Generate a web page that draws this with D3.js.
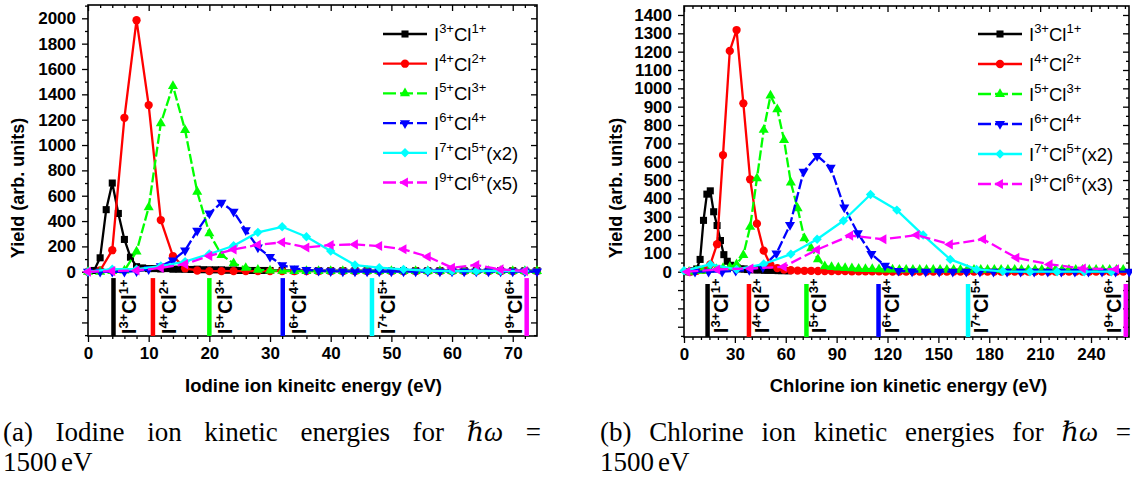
<!DOCTYPE html>
<html><head><meta charset="utf-8">
<script src="https://cdn.jsdelivr.net/npm/d3@7"></script>
<style>
body{margin:0;background:#fff}
svg{display:block}
text{font-family:"Liberation Sans",Arial,sans-serif}
.cap{font-family:"Liberation Serif","DejaVu Serif",serif;font-size:27px}
</style>
</head><body>
<svg id="c" width="1132" height="480"></svg>
<script>
// ---------- shared series info ----------
const seriesColors = ["#000000","#ff0000","#00ff00","#0000ff","#00ffff","#ff00ff"];
const seriesDash   = [null, null, "10,3", "10,3", null, "11,4"];
const seriesSymbol = ["square","circle","up","down","diamond","left"];
const ionI  = ["3+","4+","5+","6+","7+","9+"];
const ionCl = ["1+","2+","3+","4+","5+","6+"];
const legendSuffixA = ["","","","","(x2)","(x5)"];
const legendSuffixB = ["","","","","(x2)","(x3)"];

// ---------- (a) Iodine ----------
const ioTicksX = [0,10,20,30,40,50,60,70];
const ioTicksY = [0,200,400,600,800,1000,1200,1400,1600,1800,2000];
const ioBlackX = [1,2,3,4,5,6,7,8,9,10,11,12,13,14,15,16,17,18,19,20,21,22,23,24,25,26,27,28,29,30,32,34,36,38,40,42,44,46,48,50,52,54,56,58,60,62,64,66,68,70,72,74];
const ioBlackY = [10,110,490,700,460,255,115,40,30,25,25,22,25,20,20,20,18,20,16,15,15,15,12,14,10,12,10,10,10,10,10,8,10,8,8,8,8,8,8,8,8,8,8,8,8,8,8,8,8,8,8,8];
const ioRedX = [0,2,4,6,8,10,12,14,16,18,20,22,24,26,28,30,32,34,36,38,40,42,44,46,48,50,52,54,56,58,60,62,64,66,68,70,72,74];
const ioRedY = [0,10,170,1215,1985,1315,408,124,27,10,5,5,5,5,5,5,5,5,5,5,5,5,5,5,5,5,5,5,5,5,5,5,5,5,5,5,5,5];
const ioGreenX = [0,2,4,6,8,10,12,14,16,18,20,22,24,26,28,30,32,34,36,38,40,42,44,46,48,50,52,54,56,58,60,62,64,66,68,70,72,74];
const ioGreenY = [0,0,5,10,160,508,1171,1466,1118,631,303,132,66,30,15,10,8,5,5,5,5,5,5,5,5,5,5,5,5,5,5,5,5,5,5,5,5,5];
const ioBlueX = [0,2,4,6,8,10,12,14,16,18,20,22,24,26,28,30,32,34,36,38,40,42,44,46,48,50,52,54,56,58,60,62,64,66,68,70,72,74];
const ioBlueY = [0,0,0,0,5,20,45,90,168,324,461,545,474,329,192,118,53,27,15,8,5,3,2,2,2,2,2,2,2,2,2,2,2,2,2,2,2,2];
const ioCyanX = [0,4,8,12,16,20,24,28,32,36,40,44,48,52,56,60,64,68,72];
const ioCyanY = [0,20,20,45,80,140,205,311,355,276,163,53,32,19,8,5,5,8,5];
const ioMagX = [0,4,8,12,16,20,24,28,32,36,40,44,48,52,56,60,64,68,72];
const ioMagY = [0,5,10,30,60,125,175,213,232,192,211,216,203,177,119,32,53,19,5];
const ioMarkerX = [4.2,10.7,20.0,32.1,46.8,72.3];

// ---------- (b) Chlorine ----------
const clTicksX = [0,30,60,90,120,150,180,210,240];
const clTicksY = [0,100,200,300,400,500,600,700,800,900,1000,1100,1200,1300,1400];
const clBlackX = [1.5,3.5,5.5,7.5,9.5,11.5,13.5,15.5,17.5,19.5,21.5,23.5,25.5,27.5,29.5,31.5,33.5,35.5,37.5,39.5,41.5,43.5,45.5,47.5,49.5,51.5,53.5,55.5,57.5,59.5,61.5];
const clBlackY = [0,0,5,15,67,280,423,441,327,252,170,93,57,35,25,20,15,15,12,12,10,10,10,8,8,8,8,6,6,6,5];
const clRedX = [3.5,7.5,11.5,15.5,19.5,23,27,31,35,39,43,47,51,55,59,63,67,71,75,79,83,87,91,95,99,103,107,111,115,119,123,127,131,135,139,143,147,151,155,159,163,167,171,175,179,183,187,191,195,199,203,207,211,215,219,223,227,231,235,239,243,247,251,255,259];
const clRedY = [0,5,10,40,150,636,1204,1318,918,504,262,115,37,20,12,8,6,5,5,4,4,3,3,3,2,2,2,2,2,1,1,1,1,1,1,1,1,1,1,1,1,1,1,1,1,1,1,1,1,1,1,1,1,1,1,1,1,1,1,1,1,1,1,1,1];
const clGreenX = [3,7,11,15,19,23,27,31,35,39,43,47,51,55,59,63,67,71,75,79,83,87,91,95,99,103,107,111,115,119,123,127,131,135,139,143,147,151,155,159,163,167,171,175,179,183,187,191,195,199,203,207,211,215,219,223,227,231,235,239,243,247,251,255,259];
const clGreenY = [0,5,5,10,15,20,25,40,91,245,509,773,960,886,718,486,346,182,128,68,30,25,22,20,18,16,15,14,13,12,12,11,11,10,10,10,10,10,10,10,10,10,10,10,10,10,10,10,10,10,10,10,10,10,10,10,10,10,10,10,10,10,10,10,10];
const clBlueX = [6.5,14.5,22.5,30.5,38.5,46.5,54.5,62.5,70.5,78.5,86.5,94.5,102.5,110.5,118.5,126.5,134.5,142.5,150.5,158.5,166.5,174.5,182.5,190.5,198.5,206.5,214.5,222.5,230.5,238.5,246.5,254.5,262.5];
const clBlueY = [0,0,0,5,10,25,100,255,545,632,568,351,210,97,33,5,2,0,0,0,0,0,0,0,0,0,0,0,0,0,0,0,0];
const clCyanX = [0,15.5,31,47,63,78.5,94,110,125.5,141,157,172.5,188,204,220,236,252];
const clCyanY = [5,40,13,42,96,177,278,421,336,200,67,13,2,0,0,0,0];
const clMagX = [2,19.6,39.2,58.8,78.4,98,117.6,137.2,156.8,176.4,196,215.6,235.2,254.8];
const clMagY = [0,12,18,27,120,197,177,200,149,177,76,40,18,13];
const clMarkerX = [13.9,38.3,72.2,114.7,167.5,260.5];

// ---------- captions ----------
const capWordsA = ["(a)","Iodine","ion","kinetic","energies","for","ℏω","="];
const capWordsB = ["(b)","Chlorine","ion","kinetic","energies","for","ℏω","="];
const capLine2 = ["1500","eV"];

const svg = d3.select("#c");

function symbolPath(kind){
  const s = {square:[d3.symbolSquare,50,0], circle:[d3.symbolCircle,54,0], up:[d3.symbolTriangle,44,0],
             down:[d3.symbolTriangle,44,180], diamond:[d3.symbolSquare,44,45], left:[d3.symbolTriangle,44,-90]}[kind];
  return {d: d3.symbol().type(s[0]).size(s[1])(), rot: s[2]};
}

function ionLabel(t, i, small, shift, suffix){
  t.append("tspan").text("I");
  t.append("tspan").attr("font-size",small).attr("dy",-shift).text(ionI[i]);
  t.append("tspan").attr("dy",shift).text("Cl");
  t.append("tspan").attr("font-size",small).attr("dy",-shift).text(ionCl[i]);
  if (suffix) t.append("tspan").attr("dy",shift).text(suffix);
}

function drawPanel(p){
  const x = d3.scaleLinear().domain(p.xDomain).range([p.left, p.right]);
  const y = d3.scaleLinear().domain(p.yDomain).range([p.bottom, p.top]);
  const g = svg.append("g");

  const styleAxis = (a, labels) => {
    a.select(".domain").remove();
    a.selectAll(".tick line").attr("stroke","#000").attr("stroke-width",1.3);
    a.selectAll("text").attr("font-family","Liberation Sans, Arial, sans-serif")
      .attr("font-size", labels ? 17 : 0).attr("font-weight","bold").attr("fill","#000");
  };
  const xMinor = d3.range(p.xDomain[0], p.xDomain[1], p.xMinorStep).filter(v => !p.ticksX.includes(v));
  const yMinor = d3.range(p.yMinorStart, p.yDomain[1], p.yMinorStep).filter(v => v % p.yMajorStep !== 0);
  const yBelow = d3.range(-p.yMajorStep, p.yDomain[0], -p.yMajorStep);
  const yMajAll = yBelow.concat(p.ticksY);

  g.append("g").attr("transform",`translate(0,${p.bottom})`)
    .call(d3.axisBottom(x).tickValues(p.ticksX).tickSize(6).tickPadding(5).tickFormat(d3.format("d"))).call(a=>styleAxis(a,true));
  g.append("g").attr("transform",`translate(0,${p.bottom})`)
    .call(d3.axisBottom(x).tickValues(xMinor).tickSize(3).tickFormat("")).call(a=>styleAxis(a,false));
  g.append("g").attr("transform",`translate(0,${p.top})`)
    .call(d3.axisTop(x).tickValues(p.ticksX).tickSize(-6).tickFormat("")).call(a=>styleAxis(a,false));
  g.append("g").attr("transform",`translate(0,${p.top})`)
    .call(d3.axisTop(x).tickValues(xMinor).tickSize(-3).tickFormat("")).call(a=>styleAxis(a,false));
  g.append("g").attr("transform",`translate(${p.left},0)`)
    .call(d3.axisLeft(y).tickValues(yMajAll).tickSize(6).tickPadding(6).tickFormat(v => v < 0 ? "" : d3.format("d")(v))).call(a=>styleAxis(a,true));
  g.append("g").attr("transform",`translate(${p.left},0)`)
    .call(d3.axisLeft(y).tickValues(yMinor).tickSize(3).tickFormat("")).call(a=>styleAxis(a,false));
  g.append("g").attr("transform",`translate(${p.right},0)`)
    .call(d3.axisRight(y).tickValues(yMajAll).tickSize(-6).tickFormat("")).call(a=>styleAxis(a,false));
  g.append("g").attr("transform",`translate(${p.right},0)`)
    .call(d3.axisRight(y).tickValues(yMinor).tickSize(-3).tickFormat("")).call(a=>styleAxis(a,false));

  g.append("rect").attr("x",p.left).attr("y",p.top).attr("width",p.right-p.left).attr("height",p.bottom-p.top)
    .attr("fill","none").attr("stroke","#000").attr("stroke-width",1.6);

  // marker strip bars + labels
  p.markerX.forEach((mx,i) => {
    g.append("line").attr("x1",x(mx)).attr("x2",x(mx)).attr("y1",y(p.stripTop)).attr("y2",y(p.yDomain[0]))
      .attr("stroke",seriesColors[i]).attr("stroke-width",4.5);
    const last = i === p.markerX.length-1;
    const bx = last ? x(mx) - 5 : x(mx) + p.labelOffset;
    const t = g.append("text").attr("transform",`translate(${bx},${p.labelBottom}) rotate(-90)`)
      .attr("font-weight","bold").attr("font-size",19.5).attr("fill","#000");
    ionLabel(t, i, 13, 8, "");
  });

  // series
  const line = d3.line().x(d=>x(d[0])).y(d=>y(d[1]));
  p.series.forEach((s,i) => {
    const pts = s.x.map((v,k)=>[v, s.y[k]]);
    g.append("path").attr("d",line(pts)).attr("fill","none").attr("stroke",seriesColors[i])
      .attr("stroke-width",2.3).attr("stroke-dasharray",seriesDash[i]).attr("stroke-linejoin","round");
    const sp = symbolPath(seriesSymbol[i]);
    g.append("g").selectAll("path").data(pts).join("path").attr("d",sp.d)
      .attr("transform",d=>`translate(${x(d[0])},${y(d[1])}) rotate(${sp.rot})`)
      .attr("fill",seriesColors[i]);
  });

  // legend
  seriesColors.forEach((c,i) => {
    const ly = p.legendTop + i*p.legendStep;
    g.append("line").attr("x1",p.legendX).attr("x2",p.legendX+44).attr("y1",ly).attr("y2",ly)
      .attr("stroke",c).attr("stroke-width",2.3).attr("stroke-dasharray",seriesDash[i] ? "13,4" : null);
    const sp = symbolPath(seriesSymbol[i]);
    g.append("path").attr("d",sp.d).attr("transform",`translate(${p.legendX+22},${ly}) rotate(${sp.rot})`).attr("fill",c);
    const t = g.append("text").attr("x",p.legendX+51).attr("y",ly+7).attr("font-size",18.5).attr("fill","#000");
    ionLabel(t, i, 13, 8, p.suffix[i]);
  });

  // axis titles
  g.append("text").attr("x",(p.left+p.right)/2 + p.xTitleShift).attr("y",392).attr("text-anchor","middle")
    .attr("font-weight","bold").attr("font-size",18.5).text(p.xTitle);
  g.append("text").attr("transform",`translate(${p.yTitleX},188) rotate(-90)`).attr("text-anchor","middle")
    .attr("font-weight","bold").attr("font-size",18).text("Yield (arb. units)");
}

drawPanel({
  left:88, right:537, top:5, bottom:336, xDomain:[0,74], yDomain:[-507,2105],
  ticksX: ioTicksX, ticksY: ioTicksY, xMinorStep:2, yMinorStep:100, yMinorStart:-500, yMajorStep:200,
  markerX: ioMarkerX, stripTop:-50, labelOffset:23, labelBottom:334,
  series:[{x:ioBlackX,y:ioBlackY},{x:ioRedX,y:ioRedY},{x:ioGreenX,y:ioGreenY},{x:ioBlueX,y:ioBlueY},{x:ioCyanX,y:ioCyanY},{x:ioMagX,y:ioMagY}],
  legendX:383, legendTop:34, legendStep:29.7, suffix: legendSuffixA,
  xTitle:"Iodine ion kineitc energy (eV)", xTitleShift:1, yTitleX:24
});
drawPanel({
  left:684, right:1129, top:6, bottom:337, xDomain:[0,262.4], yDomain:[-356,1449],
  ticksX: clTicksX, ticksY: clTicksY, xMinorStep:5, yMinorStep:50, yMinorStart:-350, yMajorStep:100,
  markerX: clMarkerX, stripTop:-67, labelOffset:20, labelBottom:333,
  series:[{x:clBlackX,y:clBlackY},{x:clRedX,y:clRedY},{x:clGreenX,y:clGreenY},{x:clBlueX,y:clBlueY},{x:clCyanX,y:clCyanY},{x:clMagX,y:clMagY}],
  legendX:978, legendTop:34, legendStep:30, suffix: legendSuffixB,
  xTitle:"Chlorine ion kinetic energy (eV)", xTitleShift:2, yTitleX:622
});

// ---------- justified captions ----------
function caption(words, x0, x1){
  const nodes = words.map(w => {
    const t = svg.append("text").attr("class","cap").attr("y",441).text(w);
    if (w === "ℏω") t.attr("font-style","italic");
    return t;
  });
  const widths = nodes.map(n => n.node().getComputedTextLength());
  const gap = (x1 - x0 - d3.sum(widths)) / (words.length - 1);
  let cx = x0;
  nodes.forEach((n,i) => { n.attr("x",cx); cx += widths[i] + gap; });
  const l2 = svg.append("text").attr("class","cap").attr("x",x0).attr("y",471);
  l2.append("tspan").text(capLine2[0]);
  l2.append("tspan").attr("dx",4).text(capLine2[1]);
}
caption(capWordsA, 3, 541);
caption(capWordsB, 600, 1131);
</script>
</body></html>
